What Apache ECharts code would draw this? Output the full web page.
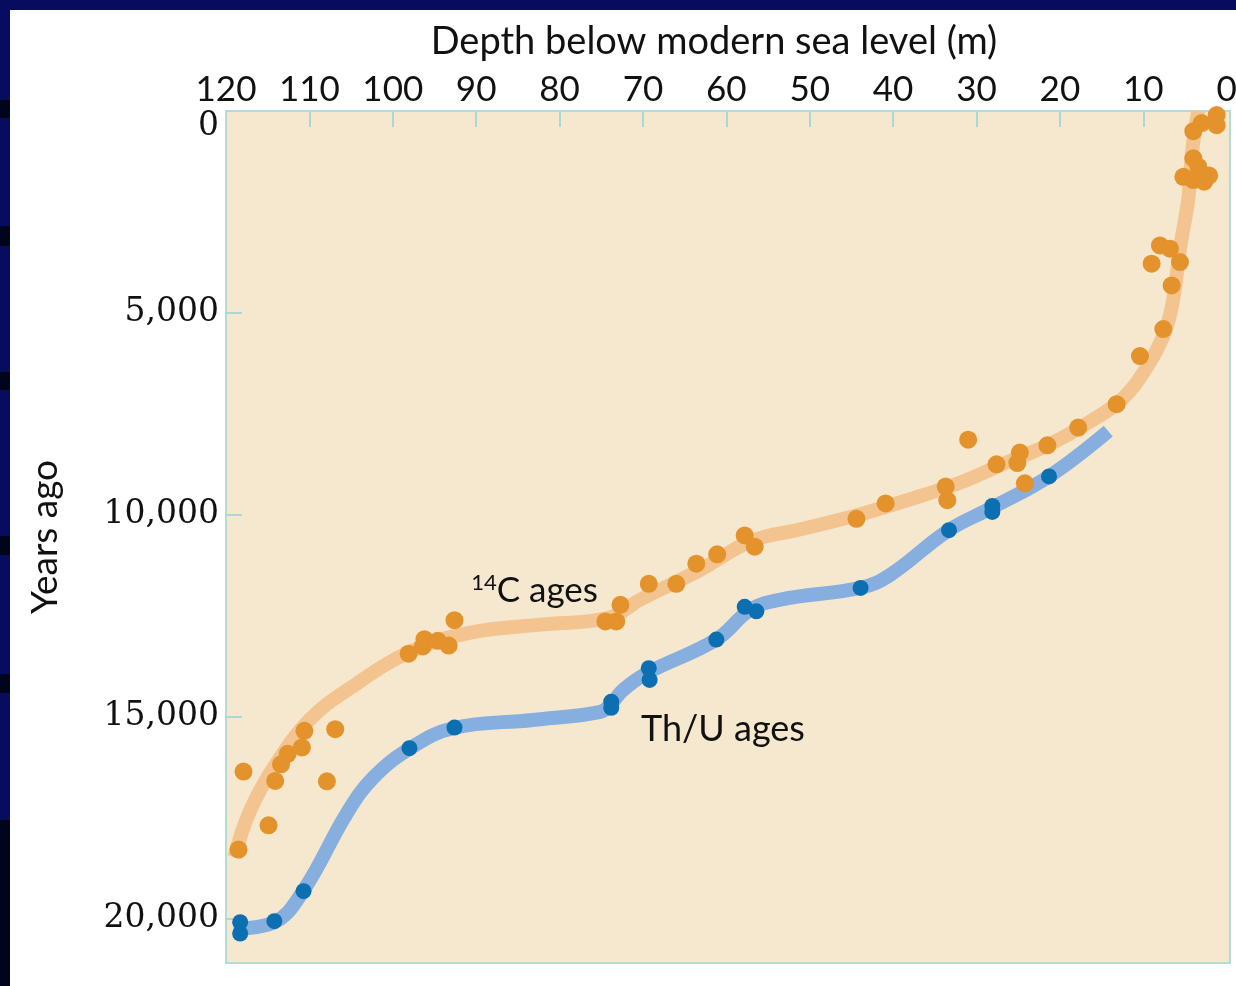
<!DOCTYPE html>
<html>
<head>
<meta charset="utf-8">
<title>Sea level rise since the last glacial maximum</title>
<script src="https://cdn.jsdelivr.net/npm/echarts@6.0.0/dist/echarts.min.js"></script>
<style>
  html, body {
    margin: 0;
    padding: 0;
    width: 1236px;
    height: 986px;
    overflow: hidden;
    background: #070c5e;
  }
  /* slide edge on the left, with its dark stripes */
  #edge {
    position: absolute;
    left: 0;
    top: 0;
    width: 10px;
    height: 986px;
    background: linear-gradient(to bottom,
      #070c5e 0, #070c5e 100px, #02031c 100px, #02031c 118px,
      #070c5e 118px, #070c5e 226px, #02031c 226px, #02031c 246px,
      #070c5e 246px, #070c5e 372px, #02031c 372px, #02031c 390px,
      #070c5e 390px, #070c5e 536px, #02031c 536px, #02031c 555px,
      #070c5e 555px, #070c5e 674px, #02031c 674px, #02031c 693px,
      #070c5e 693px, #070c5e 820px, #02031c 820px, #02031c 986px);
  }
  #chart {
    position: absolute;
    left: 10px;
    top: 10px;
    width: 1226px;
    height: 976px;
    background: #ffffff;
  }
</style>
</head>
<body>
<div id="edge"></div>
<div id="chart"></div>
<script>
// depth (m below modern sea level), age (years ago)
const depthLabels = [0, 10, 20, 30, 40, 50, 60, 70, 80, 90, 100, 110, 120];
const depthTicks = [10, 20, 30, 40, 50, 60, 70, 80, 90, 100, 110];
const ageLabels = [0, 5000, 10000, 15000, 20000];
const ageTicks = [5000, 10000, 15000, 20000];

// 14C dated samples
const c14Points = [
  [118.5, 18290], [117.9, 16360], [114.9, 17690], [114.1, 16590], [113.4, 16180],
  [112.6, 15920], [110.9, 15760], [110.6, 15350], [107.9, 16600], [106.9, 15310],
  [98.1, 13440], [96.4, 13260], [96.2, 13080], [94.6, 13120], [93.3, 13240],
  [92.6, 12610], [74.5, 12640], [73.2, 12640], [72.7, 12230], [69.3, 11710],
  [66.0, 11710], [63.6, 11210], [61.1, 10980], [57.8, 10510], [56.6, 10790],
  [44.4, 10100], [40.9, 9720], [33.7, 9300], [33.5, 9640], [31.0, 8140],
  [27.6, 8750], [25.1, 8720], [24.8, 8460], [24.2, 9220], [21.5, 8280],
  [17.8, 7840], [13.2, 7260], [10.4, 6070], [7.6, 5400], [6.6, 4320],
  [9.0, 3780], [8.0, 3330], [6.8, 3410], [5.6, 3740], [5.2, 1630],
  [4.0, 1710], [2.7, 1750], [2.1, 1600], [3.4, 1380], [4.0, 1170],
  [4.0, 500], [3.0, 300], [1.2, 100], [1.2, 350]
];

// 14C trend curve
const c14Curve = [
  [119.0, 18480], [117.1, 17320], [114.1, 16200], [110.0, 15080], [105.1, 14290],
  [97.9, 13390], [90.7, 12920], [82.3, 12720], [74.1, 12550], [70.3, 12100],
  [63.1, 11360], [57.1, 10660], [51.1, 10360], [44.0, 9990], [39.1, 9690],
  [31.9, 9200], [27.1, 8770], [21.2, 8250], [16.3, 7680], [12.5, 7130],
  [9.5, 6320], [7.4, 5470], [6.4, 4650], [5.6, 3410], [4.6, 2170],
  [4.1, 930], [3.4, 0]
];

// Th/U dated samples
const thuPoints = [
  [118.3, 20090], [118.3, 20370], [114.2, 20065], [110.7, 19320], [98.0, 15780],
  [92.6, 15270], [73.8, 14630], [73.8, 14780], [69.3, 13800], [69.2, 14090],
  [61.2, 13090], [57.8, 12280], [56.4, 12390], [43.9, 11810], [33.3, 10380],
  [28.1, 9780], [28.1, 9930], [21.3, 9050]
];

// Th/U trend curve
const thuCurve = [
  [119.1, 20250], [114.3, 20100], [110.7, 19300], [105.5, 17390], [102.3, 16500],
  [97.9, 15780], [92.7, 15280], [83.2, 15080], [75.1, 14880], [73.8, 14680],
  [72.4, 14340], [69.4, 13910], [61.2, 13090], [57.1, 12350], [53.5, 12100],
  [43.8, 11800], [40.3, 11480], [33.4, 10390], [28.1, 9820], [21.3, 9050],
  [14.2, 7930]
];

const chart = echarts.init(document.getElementById('chart'));

function thousands(v) {
  return String(v).replace(/\B(?=(\d{3})+(?!\d))/g, ',');
}

const tickStyle = { color: '#a9d8d6', width: 2 };

const option = {
  animation: false,
  grid: {
    left: 216,
    top: 101,
    width: 1004,
    height: 852,
    outerBoundsMode: 'none',
    containLabel: false,
    show: true,
    backgroundColor: '#f5e8cf',
    borderColor: '#b2dcd9',
    borderWidth: 2
  },
  xAxis: {
    type: 'value',
    position: 'top',
    inverse: true,
    min: -0.4,
    max: 120,
    name: 'Depth below modern sea level (m)',
    nameLocation: 'middle',
    nameGap: 50,
    nameTextStyle: { fontFamily: 'Lato', fontSize: 38, color: '#111', padding: [0, 28, 0, 0] },
    axisLine: { show: false, onZero: false },
    splitLine: { show: false },
    axisTick: { show: true, inside: true, length: 16, lineStyle: tickStyle, customValues: depthTicks },
    axisLabel: { customValues: depthLabels, margin: 4, fontFamily: 'Lato', fontSize: 35, color: '#111' }
  },
  yAxis: {
    type: 'value',
    position: 'left',
    inverse: true,
    min: 0,
    max: 21100,
    name: 'Years ago',
    nameLocation: 'middle',
    nameGap: 162,
    nameTextStyle: { fontFamily: 'Lato', fontSize: 37, color: '#111' },
    axisLine: { show: false, onZero: false },
    splitLine: { show: false },
    axisTick: { show: true, inside: true, length: 16, lineStyle: tickStyle, customValues: ageTicks },
    axisLabel: {
      customValues: ageLabels,
      margin: 7,
      fontFamily: 'DejaVu Serif',
      fontSize: 33,
      color: '#111',
      formatter: function (v) {
        return v === 0 ? '{z|0}' : thousands(v);
      },
      rich: {
        z: { fontFamily: 'DejaVu Serif', fontSize: 33, color: '#111', padding: [30, 0, 0, 0] }
      }
    }
  },
  series: [
    {
      name: '14C curve',
      type: 'line',
      data: c14Curve,
      showSymbol: false,
      smooth: 0.4,
      silent: true,
      z: 2,
      lineStyle: { color: '#f4c490', width: 14, cap: 'butt' },
      markPoint: {
        symbol: 'circle',
        symbolSize: 0,
        silent: true,
        data: [{ coord: [83.0, 11880] }],
        label: {
          show: true,
          position: 'inside',
          formatter: '{s|14}{t|C ages}',
          rich: {
            s: { fontFamily: 'Lato', fontSize: 22, color: '#111', padding: [0, 0, 15, 0] },
            t: { fontFamily: 'Lato', fontSize: 35, color: '#111' }
          }
        }
      }
    },
    {
      name: 'Th/U curve',
      type: 'line',
      data: thuCurve,
      showSymbol: false,
      smooth: 0.4,
      silent: true,
      z: 2,
      lineStyle: { color: '#86afe0', width: 14, cap: 'butt' },
      markPoint: {
        symbol: 'circle',
        symbolSize: 0,
        silent: true,
        data: [{ coord: [60.4, 15316] }],
        label: {
          show: true,
          position: 'inside',
          formatter: 'Th/U ages',
          fontFamily: 'Lato',
          fontSize: 36,
          color: '#111'
        }
      }
    },
    {
      name: '14C ages',
      type: 'scatter',
      data: c14Points,
      symbolSize: 18,
      z: 4,
      itemStyle: { color: '#e3922c', opacity: 1 }
    },
    {
      name: 'Th/U ages',
      type: 'scatter',
      data: thuPoints,
      symbolSize: 16,
      z: 4,
      itemStyle: { color: '#0b6fb1', opacity: 1 }
    }
  ]
};

chart.setOption(option);
</script>
</body>
</html>
